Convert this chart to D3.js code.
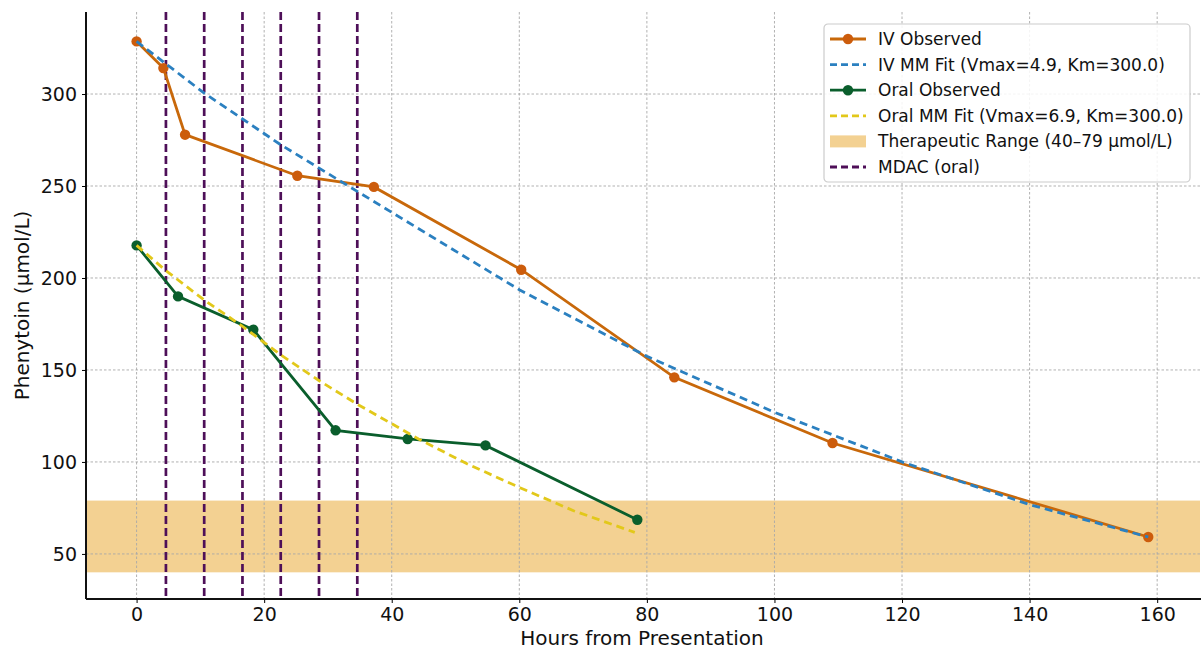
<!DOCTYPE html>
<html>
<head>
<meta charset="utf-8">
<script src="https://cdn.jsdelivr.net/npm/d3@7"></script>
<style>
    body { margin: 0; background: #ffffff; }
    svg text { font-family: "DejaVu Sans", sans-serif; fill: #111; }
</style>
</head>
<body>
<div id="chart"></div>
<script>
// Observed phenytoin levels, IV course
const ivHours = [0, 4.2, 7.6, 25.2, 37.2, 60.3, 84.3, 109.1, 158.6];
const ivLevels = [328.6, 314.1, 277.9, 255.6, 249.5, 204.5, 146.0, 110.3, 59.2];

// Michaelis-Menten fit for IV course
const ivFitHours = [0, 10.6, 22.6, 37.2, 60, 80, 100, 120.2, 140, 158.6];
const ivFitLevels = [328.6, 300.5, 272.4, 241.6, 193.6, 157.4, 127.0, 99.8, 76.8, 59.2];

// Observed phenytoin levels, oral course
const oralHours = [0, 6.5, 18.3, 31.2, 42.5, 54.7, 78.5];
const oralLevels = [217.7, 190.0, 171.9, 117.2, 112.5, 109.0, 68.6];

// Michaelis-Menten fit for oral course
const oralFitHours = [0, 4.6, 10.6, 16.5, 22.7, 28.7, 34.8, 44.2, 51.8, 60.1, 68.5, 78.1];
const oralFitLevels = [217.7, 204.0, 188.0, 174.0, 158.0, 144.0, 131.0, 112.5, 99.0, 86.0, 73.5, 61.7];

// Multi-dose activated charcoal times
const mdacHours = [4.6, 10.6, 16.6, 22.6, 28.6, 34.6];

// Therapeutic band
const therapeuticRange = [40, 79];

// Axis ticks
const xTicks = [0, 20, 40, 60, 80, 100, 120, 140, 160];
const yTicks = [50, 100, 150, 200, 250, 300];

const legendLabels = [
    "IV Observed",
    "IV MM Fit (Vmax=4.9, Km=300.0)",
    "Oral Observed",
    "Oral MM Fit (Vmax=6.9, Km=300.0)",
    "Therapeutic Range (40\u201379 \u00b5mol/L)",
    "MDAC (oral)"
];

const colors = {
    iv: "#c8680a",
    ivMarker: "#cc5c0c",
    ivFit: "#2b80c0",
    oral: "#0a5e2c",
    oralFit: "#e2c81a",
    band: "#f3d192",
    mdac: "#4e0f58",
    grid: "#a8a8a8"
};

const width = 1201, height = 651;
const plot = {left: 86, right: 1198, top: 12, bottom: 599};

const svg = d3.select("#chart")
              .append("svg")
              .attr("width", width)
              .attr("height", height);

const xScale = d3.scaleLinear()
                 .domain([-7.93, 166.4])
                 .range([plot.left, plot.right]);
const yScale = d3.scaleLinear()
                 .domain([25.5, 343.5])
                 .range([plot.bottom, plot.top + 2]);

// Therapeutic range band (full width of axes)
svg.append("rect")
   .attr("x", plot.left)
   .attr("width", plot.right + 2 - plot.left)
   .attr("y", yScale(therapeuticRange[1]))
   .attr("height", yScale(therapeuticRange[0]) - yScale(therapeuticRange[1]))
   .attr("fill", colors.band);

// Grid lines
svg.append("g")
   .selectAll("line")
   .data(xTicks)
   .enter()
   .append("line")
   .attr("x1", d => xScale(d)).attr("x2", d => xScale(d))
   .attr("y1", plot.top).attr("y2", plot.bottom)
   .attr("stroke", colors.grid)
   .attr("stroke-width", 0.9)
   .attr("stroke-dasharray", "2.5,2");
svg.append("g")
   .selectAll("line")
   .data(yTicks)
   .enter()
   .append("line")
   .attr("x1", plot.left).attr("x2", plot.right + 3)
   .attr("y1", d => yScale(d)).attr("y2", d => yScale(d))
   .attr("stroke", colors.grid)
   .attr("stroke-width", 0.9)
   .attr("stroke-dasharray", "2.5,2");

// MDAC vertical lines
svg.append("g")
   .selectAll("line")
   .data(mdacHours)
   .enter()
   .append("line")
   .attr("x1", d => xScale(d)).attr("x2", d => xScale(d))
   .attr("y1", plot.top).attr("y2", plot.bottom)
   .attr("stroke", colors.mdac)
   .attr("stroke-width", 2.7)
   .attr("stroke-dasharray", "8,4");

const line = d3.line()
               .x(d => xScale(d[0]))
               .y(d => yScale(d[1]));

function drawSeries(hours, levels, color, dashed, markerColor) {
    const pts = hours.map((h, i) => [h, levels[i]]);
    svg.append("path")
       .datum(pts)
       .attr("d", line)
       .attr("fill", "none")
       .attr("stroke", color)
       .attr("stroke-width", 2.8)
       .attr("stroke-dasharray", dashed ? "8,5" : null);
    if (markerColor) {
        svg.append("g")
           .selectAll("circle")
           .data(pts)
           .enter()
           .append("circle")
           .attr("cx", d => xScale(d[0]))
           .attr("cy", d => yScale(d[1]))
           .attr("r", 5.2)
           .attr("fill", markerColor);
    }
}

drawSeries(ivHours, ivLevels, colors.iv, false, colors.ivMarker);
drawSeries(ivFitHours, ivFitLevels, colors.ivFit, true, null);
drawSeries(oralHours, oralLevels, colors.oral, false, colors.oral);
drawSeries(oralFitHours, oralFitLevels, colors.oralFit, true, null);

// Axes (left and bottom spines only)
const xAxis = svg.append("g")
                 .attr("transform", "translate(0," + plot.bottom + ")")
                 .call(d3.axisBottom(xScale).tickValues(xTicks).tickSize(4).tickPadding(5).tickSizeOuter(0));
const yAxis = svg.append("g")
                 .attr("transform", "translate(" + plot.left + ",0)")
                 .call(d3.axisLeft(yScale).tickValues(yTicks).tickSize(4).tickPadding(5).tickSizeOuter(0));
xAxis.select(".domain").attr("stroke", "#111").attr("stroke-width", 2).attr("d", "M" + plot.left + ",0H" + (plot.right + 3));
yAxis.select(".domain").attr("stroke", "#111").attr("stroke-width", 2).attr("d", "M0," + plot.top + "V" + plot.bottom);
xAxis.selectAll("text").style("font-size", "19px").style("font-family", "DejaVu Sans");
yAxis.selectAll("text").style("font-size", "19px").style("font-family", "DejaVu Sans");

// Axis titles
svg.append("text")
   .attr("x", (plot.left + plot.right) / 2)
   .attr("y", 645)
   .attr("text-anchor", "middle")
   .style("font-size", "20px")
   .text("Hours from Presentation");
svg.append("text")
   .attr("transform", "translate(29," + ((plot.top + plot.bottom) / 2) + ") rotate(-90)")
   .attr("text-anchor", "middle")
   .style("font-size", "20px")
   .text("Phenytoin (\u00b5mol/L)");

// Legend
const legend = svg.append("g").attr("transform", "translate(824,24)");
legend.append("rect")
      .attr("width", 366).attr("height", 158)
      .attr("rx", 4)
      .attr("fill", "#ffffff").attr("fill-opacity", 0.85)
      .attr("stroke", "#cccccc").attr("stroke-width", 1.2);

const legendStyles = [
    {type: "marker", color: colors.iv, marker: colors.ivMarker},
    {type: "dash", color: colors.ivFit},
    {type: "marker", color: colors.oral, marker: colors.oral},
    {type: "dash", color: colors.oralFit},
    {type: "patch", color: colors.band},
    {type: "dash", color: colors.mdac}
];

legendLabels.forEach((label, i) => {
    const y = 15 + i * 25.6;
    const s = legendStyles[i];
    const row = legend.append("g").attr("transform", "translate(0," + y + ")");
    if (s.type === "patch") {
        row.append("rect").attr("x", 6).attr("y", -6).attr("width", 36).attr("height", 12).attr("fill", s.color);
    } else {
        row.append("line")
           .attr("x1", 6).attr("x2", 42).attr("y1", 0).attr("y2", 0)
           .attr("stroke", s.color).attr("stroke-width", 2.8)
           .attr("stroke-dasharray", s.type === "dash" ? "7,4" : null);
        if (s.type === "marker") {
            row.append("circle").attr("cx", 24).attr("cy", 0).attr("r", 5.2).attr("fill", s.marker);
        }
    }
    row.append("text")
       .attr("x", 54).attr("y", 0)
       .attr("dy", "0.35em")
       .style("font-size", "17px")
       .text(label);
});
</script>
</body>
</html>
